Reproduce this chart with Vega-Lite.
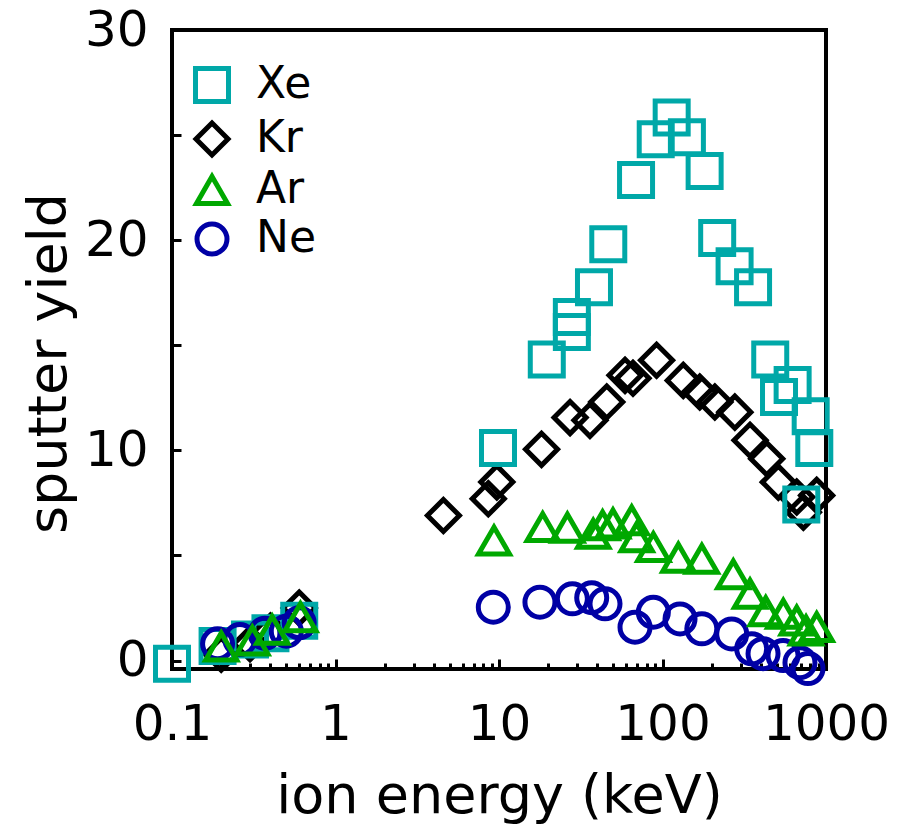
{
  "$schema": "https://vega.github.io/schema/vega-lite/v6.json",
  "width": 654,
  "height": 639,
  "autosize": {"type": "none"},
  "padding": {"left": 172, "top": 30, "right": 76, "bottom": 157},
  "background": "white",
  "config": {
    "view": {"stroke": "black", "strokeWidth": 4},
    "font": "DejaVu Sans",
    "axis": {"domain": false, "grid": false, "labelFont": "DejaVu Sans", "titleFont": "DejaVu Sans", "labelColor": "black", "titleColor": "black", "titleFontWeight": "normal", "tickColor": "black", "tickWidth": 3}
  },
  "data": {
    "values": [
      {"ion": "Kr", "energy": 0.2, "yield": 0.3},
      {"ion": "Kr", "energy": 0.3, "yield": 0.8},
      {"ion": "Kr", "energy": 0.4, "yield": 1.4},
      {"ion": "Kr", "energy": 0.6, "yield": 2.5},
      {"ion": "Kr", "energy": 4.57, "yield": 6.9},
      {"ion": "Kr", "energy": 8.6, "yield": 7.7},
      {"ion": "Kr", "energy": 9.7, "yield": 8.5},
      {"ion": "Kr", "energy": 18.2, "yield": 10.05},
      {"ion": "Kr", "energy": 27.2, "yield": 11.56},
      {"ion": "Kr", "energy": 36, "yield": 11.43},
      {"ion": "Kr", "energy": 45.6, "yield": 12.3},
      {"ion": "Kr", "energy": 59, "yield": 13.57},
      {"ion": "Kr", "energy": 66, "yield": 13.43},
      {"ion": "Kr", "energy": 92, "yield": 14.29},
      {"ion": "Kr", "energy": 134, "yield": 13.33},
      {"ion": "Kr", "energy": 169, "yield": 12.78},
      {"ion": "Kr", "energy": 209, "yield": 12.3},
      {"ion": "Kr", "energy": 277, "yield": 11.82},
      {"ion": "Kr", "energy": 343, "yield": 10.48},
      {"ion": "Kr", "energy": 434, "yield": 9.6},
      {"ion": "Kr", "energy": 511, "yield": 8.49},
      {"ion": "Kr", "energy": 662, "yield": 7.78},
      {"ion": "Kr", "energy": 877, "yield": 7.86},
      {"ion": "Kr", "energy": 727, "yield": 7.06},
      {"ion": "Xe", "energy": 0.1, "yield": -0.15},
      {"ion": "Xe", "energy": 0.19, "yield": 0.7},
      {"ion": "Xe", "energy": 0.3, "yield": 1.0},
      {"ion": "Xe", "energy": 0.4, "yield": 1.3},
      {"ion": "Xe", "energy": 0.6, "yield": 1.9},
      {"ion": "Xe", "energy": 9.86, "yield": 10.11},
      {"ion": "Xe", "energy": 19.6, "yield": 14.33},
      {"ion": "Xe", "energy": 27.9, "yield": 16.35},
      {"ion": "Xe", "energy": 27.9, "yield": 15.63},
      {"ion": "Xe", "energy": 38.1, "yield": 17.76},
      {"ion": "Xe", "energy": 46.6, "yield": 19.81},
      {"ion": "Xe", "energy": 68.9, "yield": 22.86},
      {"ion": "Xe", "energy": 90.9, "yield": 24.8},
      {"ion": "Xe", "energy": 113.8, "yield": 25.84},
      {"ion": "Xe", "energy": 141, "yield": 24.9},
      {"ion": "Xe", "energy": 181, "yield": 23.29},
      {"ion": "Xe", "energy": 216, "yield": 20.11},
      {"ion": "Xe", "energy": 276, "yield": 18.76},
      {"ion": "Xe", "energy": 358, "yield": 17.76},
      {"ion": "Xe", "energy": 456, "yield": 14.33},
      {"ion": "Xe", "energy": 516, "yield": 12.54},
      {"ion": "Xe", "energy": 625, "yield": 13.11},
      {"ion": "Xe", "energy": 806, "yield": 11.62},
      {"ion": "Xe", "energy": 848, "yield": 10.11},
      {"ion": "Xe", "energy": 706, "yield": 7.43},
      {"ion": "Ne", "energy": 0.19, "yield": 0.8},
      {"ion": "Ne", "energy": 0.26, "yield": 1.0},
      {"ion": "Ne", "energy": 0.37, "yield": 1.3},
      {"ion": "Ne", "energy": 0.5, "yield": 1.4},
      {"ion": "Ne", "energy": 0.6, "yield": 1.8},
      {"ion": "Ne", "energy": 9.23, "yield": 2.54},
      {"ion": "Ne", "energy": 17.8, "yield": 2.78},
      {"ion": "Ne", "energy": 28.1, "yield": 2.94},
      {"ion": "Ne", "energy": 36.9, "yield": 2.99},
      {"ion": "Ne", "energy": 44.5, "yield": 2.7},
      {"ion": "Ne", "energy": 67.9, "yield": 1.59},
      {"ion": "Ne", "energy": 87.9, "yield": 2.3},
      {"ion": "Ne", "energy": 128, "yield": 1.98},
      {"ion": "Ne", "energy": 174, "yield": 1.51},
      {"ion": "Ne", "energy": 265, "yield": 1.27},
      {"ion": "Ne", "energy": 351, "yield": 0.56},
      {"ion": "Ne", "energy": 412, "yield": 0.33},
      {"ion": "Ne", "energy": 546, "yield": 0.24},
      {"ion": "Ne", "energy": 693, "yield": -0.1},
      {"ion": "Ne", "energy": 776, "yield": -0.38},
      {"ion": "Ar", "energy": 0.2, "yield": 0.67},
      {"ion": "Ar", "energy": 0.31, "yield": 0.95},
      {"ion": "Ar", "energy": 0.41, "yield": 1.46},
      {"ion": "Ar", "energy": 0.61, "yield": 2.06},
      {"ion": "Ar", "energy": 9.32, "yield": 5.71},
      {"ion": "Ar", "energy": 18.5, "yield": 6.35},
      {"ion": "Ar", "energy": 26.2, "yield": 6.32},
      {"ion": "Ar", "energy": 37.7, "yield": 6.03},
      {"ion": "Ar", "energy": 43, "yield": 6.43},
      {"ion": "Ar", "energy": 49.8, "yield": 6.52},
      {"ion": "Ar", "energy": 64.8, "yield": 6.67},
      {"ion": "Ar", "energy": 69.5, "yield": 5.87},
      {"ion": "Ar", "energy": 87.9, "yield": 5.4},
      {"ion": "Ar", "energy": 125, "yield": 4.89},
      {"ion": "Ar", "energy": 174, "yield": 4.84},
      {"ion": "Ar", "energy": 271, "yield": 4.1},
      {"ion": "Ar", "energy": 343, "yield": 3.18},
      {"ion": "Ar", "energy": 428, "yield": 2.35},
      {"ion": "Ar", "energy": 548, "yield": 2.22},
      {"ion": "Ar", "energy": 662, "yield": 1.9},
      {"ion": "Ar", "energy": 755, "yield": 1.43},
      {"ion": "Ar", "energy": 877, "yield": 1.59}
    ]
  },
  "mark": {"type": "point", "filled": false, "strokeWidth": 5, "opacity": 1, "clip": false},
  "encoding": {
    "x": {
      "field": "energy", "type": "quantitative",
      "scale": {"type": "log", "domain": [0.1, 1000], "nice": false},
      "axis": {
        "values": [0.1, 0.2, 0.3, 0.4, 0.5, 0.6, 0.7, 0.8, 0.9, 1, 2, 3, 4, 5, 6, 7, 8, 9, 10, 20, 30, 40, 50, 60, 70, 80, 90, 100, 200, 300, 400, 500, 600, 700, 800, 900, 1000],
        "labelExpr": "indexof([0.1,1,10,100,1000], datum.value) >= 0 ? datum.label : ''",
        "format": "~g",
        "labelFontSize": 50,
        "labelPadding": 40,
        "labelFlush": false,
        "labelOverlap": false,
        "tickSize": {"condition": {"test": "indexof([0.1,1,10,100,1000], datum.value) >= 0", "value": -10}, "value": -6},
        "title": "ion energy (keV)",
        "titleFontSize": 54,
        "titlePadding": 16
      }
    },
    "y": {
      "field": "yield", "type": "quantitative",
      "scale": {"domain": [-0.4, 30], "nice": false, "zero": false},
      "axis": {
        "values": [0, 5, 10, 15, 20, 25, 30],
        "labelExpr": "datum.value % 10 == 0 ? datum.label : ''",
        "labelFontSize": 50,
        "labelPadding": 33,
        "labelOverlap": false,
        "labelFlush": false,
        "tickSize": -9,
        "title": "sputter yield",
        "titleFontSize": 54,
        "titlePadding": 8,
        "titleY": 333
      }
    },
    "color": {
      "field": "ion", "type": "nominal",
      "scale": {"domain": ["Xe", "Kr", "Ar", "Ne"], "range": ["#00A8A8", "#000000", "#00A800", "#0000A5"]},
      "legend": {
        "title": null, "orient": "none", "legendX": 18, "legendY": 33,
        "labelFontSize": 44, "labelFont": "DejaVu Sans", "labelColor": "black",
        "symbolStrokeWidth": 5, "labelOffset": 22, "rowPadding": 0
      }
    },
    "shape": {
      "field": "ion", "type": "nominal",
      "scale": {"domain": ["Xe", "Kr", "Ar", "Ne"], "range": ["square", "diamond", "triangle-up", "circle"]}
    },
    "size": {
      "field": "ion", "type": "nominal",
      "scale": {"domain": ["Xe", "Kr", "Ar", "Ne"], "range": [1089, 900, 1150, 1089]}
    }
  }
}
